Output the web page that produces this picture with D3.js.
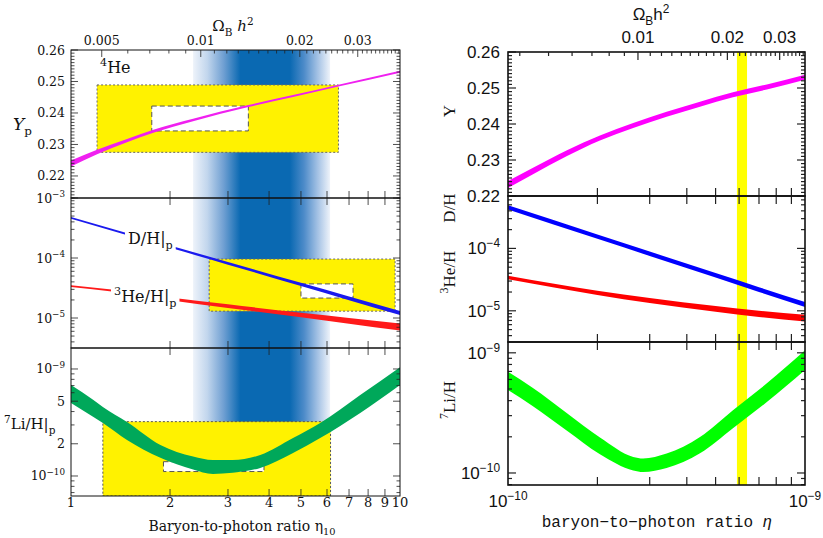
<!DOCTYPE html>
<html>
<head>
<meta charset="utf-8">
<script src="https://cdnjs.cloudflare.com/ajax/libs/d3/7.8.5/d3.min.js"></script>
<style>
body { margin: 0; background: #fff; }
svg { display: block; }
</style>
</head>
<body>
<script>
/* data: left figure, eta10 = 1..10 */
var etaHeL = [1, 1.2, 1.48, 1.78, 2.35, 3.46, 4.73, 6.5, 10]
var ypLoL = [0.223, 0.2269, 0.2307, 0.2337, 0.2374, 0.2419, 0.2451, 0.2484, 0.2528]
var ypHiL = [0.2249, 0.2283, 0.2317, 0.2347, 0.2382, 0.2425, 0.2457, 0.249, 0.2534]

var etaDL = [1, 2, 3, 5, 7, 10]
var dhLoL = [4.49e-4, 1.48e-4, 7.75e-5, 3.41e-5, 1.98e-5, 1.12e-5]
var dhHiL = [4.81e-4, 1.62e-4, 8.57e-5, 3.86e-5, 2.29e-5, 1.31e-5]

var eta3L = [1, 1.35, 2, 3, 5, 7, 10]
var he3LoL = [3.29e-5, 2.74e-5, 1.98e-5, 1.47e-5, 1.03e-5, 8.04e-6, 6.19e-6]
var he3HiL = [3.53e-5, 2.96e-5, 2.19e-5, 1.69e-5, 1.22e-5, 1.0e-5, 8.1e-6]

var etaLiL = [1, 1.17, 1.25, 1.48, 1.87, 2.35, 2.7, 3.1, 3.76, 4.73, 5.72, 7.57, 10]
var liLoL = [4.81e-10, 3.56e-10, 3.13e-10, 2.17e-10, 1.48e-10, 1.15e-10, 1.045e-10, 1.07e-10, 1.19e-10, 1.64e-10, 2.26e-10, 3.88e-10, 7.1e-10]
var liHiL = [7.08e-10, 5.14e-10, 4.42e-10, 3.2e-10, 1.95e-10, 1.52e-10, 1.41e-10, 1.41e-10, 1.57e-10, 2.26e-10, 3.13e-10, 5.71e-10, 1.04e-9]

// observation boxes: [eta min, eta max, value min, value max]
var heBox = [1.2, 6.5, 0.2275, 0.2489]
var heBoxIn = [1.76, 3.46, 0.2343, 0.2422]
var dBox = [2.63, 9.66, 1.3e-5, 9.6e-5]
var dBoxIn = [5.0, 7.2, 2.15e-5, 3.7e-5]
var liBox = [1.25, 6.15, 5e-11, 3.22e-10]
var liBoxIn = [1.91, 3.86, 1.1e-10, 1.36e-10]
// concordance band: outer edges and dark core (eta10)
var cmbBand = [2.35, 3.27, 4.63, 6.13]

var omegaTicksL = [0.005, 0.01, 0.02, 0.03]
var omegaToEtaL = 248
var etaTickLabelsL = [1, 2, 3, 4, 5, 6, 7, 8, 9, 10]

/* data: right figure, eta in units of 1e-10 */
var etaYR = [1, 1.21, 1.58, 2.04, 2.64, 3.42, 4.43, 5.72, 7.44, 10]
var yLoR = [0.2222, 0.226, 0.2311, 0.2354, 0.2389, 0.242, 0.2448, 0.2474, 0.2496, 0.2523]
var yHiR = [0.2242, 0.2278, 0.2327, 0.2368, 0.2403, 0.2434, 0.2462, 0.2488, 0.251, 0.2537]

var etaDR = [1, 2, 3, 5, 7, 10]
var dhLoR = [4.22e-4, 1.43e-4, 7.59e-5, 3.41e-5, 2.01e-5, 1.15e-5]
var dhHiR = [4.9e-4, 1.67e-4, 8.9e-5, 4.04e-5, 2.39e-5, 1.38e-5]
var he3LoR = [3.19e-5, 1.79e-5, 1.33e-5, 9.64e-6, 7.98e-6, 6.74e-6]
var he3HiR = [3.66e-5, 2.1e-5, 1.6e-5, 1.19e-5, 1.0e-5, 8.66e-6]

var etaLiR = [1, 1.21, 1.58, 2.04, 2.64, 2.85, 3.42, 4.43, 5.72, 7.44, 10]
var liLoR = [4.9e-10, 3.61e-10, 2.25e-10, 1.43e-10, 1.05e-10, 1.02e-10, 1.1e-10, 1.46e-10, 2.36e-10, 3.89e-10, 7.18e-10]
var liHiR = [6.95e-10, 5.12e-10, 3.14e-10, 1.97e-10, 1.36e-10, 1.32e-10, 1.45e-10, 1.99e-10, 3.33e-10, 5.57e-10, 1.05e-9]

var wmapBand = [5.9, 6.38]
var omegaTicksR = [0.01, 0.02, 0.03]
var omegaToEtaR = 273.9

/* setup */
var width = 823, height = 538
var serif = '"DejaVu Serif", serif'
var tserif = '"Liberation Serif", serif'
var sans = '"Liberation Sans", Arial, sans-serif'
var mono = '"Liberation Mono", monospace'

var svg = d3.select('body').append('svg')
    .attr('width', width)
    .attr('height', height)
var defs = svg.append('defs')

var xL = d3.scaleLog().domain([1, 10]).range([71, 400])
var yL1 = d3.scaleLinear().domain([0.213, 0.26]).range([198, 50])
var yL2 = d3.scaleLog().domain([Math.pow(10, -5.5), 1e-3]).range([348, 198])
var yL3 = d3.scaleLog().domain([Math.pow(10, -10.187), Math.pow(10, -8.804)]).range([496, 348])

var xR = d3.scaleLog().domain([1, 10]).range([508, 805])
var yR1 = d3.scaleLinear().domain([0.22, 0.26]).range([196, 52])
var yR2 = d3.scaleLog().domain([Math.pow(10, -5.5), Math.pow(10, -3.16)]).range([342, 196])
var yR3 = d3.scaleLog().domain([Math.pow(10, -10.1), Math.pow(10, -8.91)]).range([485, 342])

var clipCount = 0
function clipFor(x, y) {
    var id = 'clip' + (clipCount++)
    defs.append('clipPath').attr('id', id).append('rect')
        .attr('x', x.range()[0]).attr('y', y.range()[1])
        .attr('width', x.range()[1] - x.range()[0])
        .attr('height', y.range()[0] - y.range()[1])
    return 'url(#' + id + ')'
}

function rows(eta, lo, hi) {
    return eta.map(function(e, i) { return { eta: e, lo: lo[i], hi: hi[i] } })
}

function band(g, x, y, eta, lo, hi, color) {
    var area = d3.area()
        .x(function(d) { return x(d.eta) })
        .y0(function(d) { return y(d.lo) })
        .y1(function(d) { return y(d.hi) })
        .curve(d3.curveMonotoneX)
    g.append('path').datum(rows(eta, lo, hi))
        .attr('d', area)
        .attr('fill', color)
}

function box(g, x, y, b, fill, dash, stroke) {
    var y0 = Math.min(y(b[3]), y.range()[0])
    var y1 = Math.min(y(b[2]), y.range()[0])
    g.append('rect')
        .attr('x', x(b[0])).attr('y', y0)
        .attr('width', x(b[1]) - x(b[0]))
        .attr('height', y1 - y0)
        .attr('fill', fill)
        .attr('stroke', stroke)
        .attr('stroke-width', 1)
        .attr('stroke-dasharray', dash)
}

function rich(text, parts, size) {
    var off = 0
    parts.forEach(function(p) {
        var target = p[1] === 'sup' ? -size * 0.42 : p[1] === 'sub' ? size * 0.3 : 0
        var t = text.append('tspan').attr('dy', target - off).text(p[0])
        if (p[1]) t.style('font-size', (size * 0.7) + 'px')
        if (p[2]) t.style('font-style', p[2])
        off = target
    })
    return text
}

function label(g, x, y, parts, size, font, anchor) {
    var t = g.append('text')
        .attr('x', x).attr('y', y)
        .attr('text-anchor', anchor || 'start')
        .style('font-family', font)
        .style('font-size', size + 'px')
        .attr('fill', '#111')
    return rich(t, parts, size)
}

function isDecade(v) {
    var l = Math.log10(v)
    return Math.abs(l - Math.round(l)) < 1e-6
}

function frame(g, x, y, opt) {
    var x0 = x.range()[0], x1 = x.range()[1]
    var yb = y.range()[0], yt = y.range()[1]
    var ticks = g.append('g').attr('stroke', '#222').attr('stroke-width', opt.tw)
    opt.yTicks.forEach(function(v) {
        var len = opt.isMajor(v) ? opt.major : opt.minor
        var yy = y(v)
        if (yy < yt - 0.5 || yy > yb + 0.5) return
        ticks.append('line').attr('x1', x0).attr('x2', x0 + len).attr('y1', yy).attr('y2', yy)
        ticks.append('line').attr('x1', x1).attr('x2', x1 - len).attr('y1', yy).attr('y2', yy)
    })
    opt.xTicks.forEach(function(v) {
        var xx = x(v)
        if (opt.bottom) ticks.append('line').attr('x1', xx).attr('x2', xx).attr('y1', yb).attr('y2', yb - opt.major)
        if (opt.top) ticks.append('line').attr('x1', xx).attr('x2', xx).attr('y1', yt).attr('y2', yt + opt.major)
    })
    g.append('rect')
        .attr('x', x0).attr('y', yt)
        .attr('width', x1 - x0).attr('height', yb - yt)
        .attr('fill', 'none')
        .attr('stroke', '#111')
        .attr('stroke-width', opt.fw)
}

function sciParts(v) {
    return [['10', ''], ['\u2212' + Math.round(-Math.log10(v)), 'sup']]
}

/* ---------------- left figure ---------------- */
var gl = svg.append('g')

var grad = defs.append('linearGradient').attr('id', 'cmb')
    .attr('gradientUnits', 'userSpaceOnUse')
    .attr('x1', xL(cmbBand[0])).attr('x2', xL(cmbBand[3]))
    .attr('y1', 0).attr('y2', 0)
var span = xL(cmbBand[3]) - xL(cmbBand[0])
var c0 = (xL(cmbBand[1]) - xL(cmbBand[0])) / span
var c1 = (xL(cmbBand[2]) - xL(cmbBand[0])) / span
var core = '#0a69b2', edge = '#eef3fa'
var stops = [
    [0, edge], [c0 * 0.3, '#c2d6ed'], [c0 * 0.65, '#6f9fd2'], [c0, core],
    [c1, core], [c1 + (1 - c1) * 0.35, '#4d8bc9'], [c1 + (1 - c1) * 0.7, '#a6c3e5'], [1, edge]
]
stops.forEach(function(s) {
    grad.append('stop').attr('offset', s[0]).attr('stop-color', s[1])
})

gl.append('rect')
    .attr('x', xL(cmbBand[0])).attr('y', yL1.range()[1])
    .attr('width', span)
    .attr('height', yL3.range()[0] - yL1.range()[1])
    .attr('fill', 'url(#cmb)')

var pL1 = gl.append('g').attr('clip-path', clipFor(xL, yL1))
var pL2 = gl.append('g').attr('clip-path', clipFor(xL, yL2))
var pL3 = gl.append('g').attr('clip-path', clipFor(xL, yL3))

box(pL1, xL, yL1, heBox, '#fff200', '2,2', '#666')
box(pL1, xL, yL1, heBoxIn, '#fff', '5,3', '#555')
band(pL1, xL, yL1, etaHeL, ypLoL, ypHiL, '#f020f0')

box(pL2, xL, yL2, dBox, '#fff200', '2,2', '#666')
box(pL2, xL, yL2, dBoxIn, '#fff', '5,3', '#555')
band(pL2, xL, yL2, etaDL, dhLoL, dhHiL, '#1a1aee')
band(pL2, xL, yL2, eta3L, he3LoL, he3HiL, '#ff1a1a')

box(pL3, xL, yL3, liBox, '#fff200', '2,2', '#555')
box(pL3, xL, yL3, liBoxIn, '#fff', '5,3', '#555')
band(pL3, xL, yL3, etaLiL, liLoL, liHiL, '#00a85a')

var etaMinor = [2, 3, 4, 5, 6, 7, 8, 9]
var linMinor = d3.range(213, 261).map(function(i) { return i / 1000 })
var lOpt = { tw: 0.8, fw: 1, major: 7, minor: 3.5, bottom: true, top: true }
frame(gl, xL, yL1, Object.assign({}, lOpt, { top: false, xTicks: etaMinor, yTicks: linMinor,
    isMajor: function(v) { return Math.abs(v * 100 - Math.round(v * 100)) < 1e-6 } }))
frame(gl, xL, yL2, Object.assign({}, lOpt, { xTicks: etaMinor, yTicks: yL2.ticks(), isMajor: isDecade }))
frame(gl, xL, yL3, Object.assign({}, lOpt, { xTicks: etaMinor, yTicks: yL3.ticks(),
    isMajor: function(v) { return isDecade(v) || Math.abs(v - 2e-10) < 1e-14 || Math.abs(v - 5e-10) < 1e-14 } }))

// omega ticks on top of the left figure
var omegaMinorL = d3.range(5, 41).map(function(i) { return i / 1000 })
omegaMinorL.forEach(function(o) {
    var xx = xL(o * omegaToEtaL)
    if (xx > xL.range()[1]) return
    var major = omegaTicksL.some(function(m) { return Math.abs(m - o) < 1e-9 })
    gl.append('line').attr('x1', xx).attr('x2', xx)
        .attr('y1', yL1.range()[1]).attr('y2', yL1.range()[1] + (major ? 7 : 3.5))
        .attr('stroke', '#222').attr('stroke-width', 0.8)
})
omegaTicksL.forEach(function(o) {
    label(gl, xL(o * omegaToEtaL), 45, [[String(o), '']], 12.5, serif, 'middle')
})
label(gl, 233, 31, [['\u03a9', ''], ['B', 'sub'], [' ', ''], ['h', '', 'italic'], ['2', 'sup']], 15, serif, 'middle')

// y tick labels
;[0.26, 0.25, 0.24, 0.23, 0.22].forEach(function(v) {
    label(gl, 65, yL1(v) + 4.5, [[v.toFixed(2), '']], 12.5, serif, 'end')
})
;[1e-3, 1e-4, 1e-5].forEach(function(v) {
    label(gl, 65, yL2(v) + 4.5, sciParts(v), 12.5, serif, 'end')
})
;[1e-9, 5e-10, 2e-10, 1e-10].forEach(function(v) {
    var parts = isDecade(v) ? sciParts(v) : [[String(Math.round(v * 1e10)), '']]
    label(gl, 65, yL3(v) + 4.5, parts, 12.5, serif, 'end')
})
etaTickLabelsL.forEach(function(v) {
    label(gl, xL(v), 507, [[String(v), '']], 13, serif, 'middle')
})
label(gl, 242, 531, [['Baryon-to-photon ratio \u03b7', ''], ['10', 'sub']], 14, serif, 'middle')

// panel labels
label(gl, 13, 130, [['Y', '', 'italic'], ['p', 'sub']], 17, serif)
label(gl, 100, 73, [['4', 'sup'], ['He', '']], 16, serif)
label(gl, 4, 429, [['7', 'sup'], ['Li/H|', ''], ['p', 'sub']], 15, serif)

function lineLabel(x, y, parts) {
    var t = label(gl, x, y, parts, 16, serif)
    var bb = t.node().getBBox()
    gl.insert('rect', 'text')
        .attr('x', bb.x - 3).attr('y', bb.y)
        .attr('width', bb.width + 6).attr('height', bb.height)
        .attr('fill', '#fff')
}
lineLabel(128, 244, [['D/H|', ''], ['p', 'sub']])
lineLabel(114, 302, [['3', 'sup'], ['He/H|', ''], ['p', 'sub']])

/* ---------------- right figure ---------------- */
var gr = svg.append('g')

gr.append('rect')
    .attr('x', xR(wmapBand[0])).attr('y', yR1.range()[1])
    .attr('width', xR(wmapBand[1]) - xR(wmapBand[0]))
    .attr('height', yR3.range()[0] - yR1.range()[1])
    .attr('fill', '#ffff00')

var pR1 = gr.append('g').attr('clip-path', clipFor(xR, yR1))
var pR2 = gr.append('g').attr('clip-path', clipFor(xR, yR2))
var pR3 = gr.append('g').attr('clip-path', clipFor(xR, yR3))

band(pR1, xR, yR1, etaYR, yLoR, yHiR, '#ff00ff')
band(pR2, xR, yR2, etaDR, dhLoR, dhHiR, '#0000ff')
band(pR2, xR, yR2, etaDR, he3LoR, he3HiR, '#ff0000')
band(pR3, xR, yR3, etaLiR, liLoR, liHiR, '#00ff00')

var linMinorR = d3.range(220, 261).map(function(i) { return i / 1000 })
var rOpt = { tw: 1.2, fw: 1.6, major: 8, minor: 4, bottom: true, top: true }
frame(gr, xR, yR1, Object.assign({}, rOpt, { top: false, xTicks: etaMinor, yTicks: linMinorR,
    isMajor: function(v) { return Math.abs(v * 100 - Math.round(v * 100)) < 1e-6 } }))
frame(gr, xR, yR2, Object.assign({}, rOpt, { xTicks: etaMinor, yTicks: yR2.ticks(), isMajor: isDecade }))
frame(gr, xR, yR3, Object.assign({}, rOpt, { xTicks: etaMinor, yTicks: yR3.ticks(), isMajor: isDecade }))

var omegaMinorR = d3.range(4, 37).map(function(i) { return i / 1000 })
omegaMinorR.forEach(function(o) {
    var xx = xR(o * omegaToEtaR)
    if (xx > xR.range()[1]) return
    var major = omegaTicksR.some(function(m) { return Math.abs(m - o) < 1e-9 })
    gr.append('line').attr('x1', xx).attr('x2', xx)
        .attr('y1', yR1.range()[1]).attr('y2', yR1.range()[1] + (major ? 8 : 4))
        .attr('stroke', '#222').attr('stroke-width', 1.2)
})
omegaTicksR.forEach(function(o) {
    label(gr, xR(o * omegaToEtaR), 43, [[String(o), '']], 17, sans, 'middle')
})
label(gr, 651, 20, [['\u03a9', ''], ['B', 'sub'], ['h', ''], ['2', 'sup']], 17, sans, 'middle')

;[0.26, 0.25, 0.24, 0.23, 0.22].forEach(function(v) {
    label(gr, 500, yR1(v) + 6, [[v.toFixed(2), '']], 17, sans, 'end')
})
;[1e-4, 1e-5].forEach(function(v) {
    label(gr, 500, yR2(v) + 6, sciParts(v), 17, sans, 'end')
})
;[1e-9, 1e-10].forEach(function(v) {
    label(gr, 500, yR3(v) + 6, sciParts(v), 17, sans, 'end')
})
label(gr, xR(1), 507, sciParts(1e-10), 17, sans, 'middle')
label(gr, xR(10), 507, sciParts(1e-9), 17, sans, 'middle')
label(gr, 657, 527, [['baryon\u2212to\u2212photon ratio  ', ''], ['\u03b7', '', 'italic']], 16, mono, 'middle')

function sideLabel(cy, parts) {
    var g = gr.append('g').attr('transform', 'translate(455,' + cy + ') rotate(-90)')
    label(g, 0, 0, parts, 17, tserif, 'middle')
}
sideLabel(111, [['Y', '']])
sideLabel(208, [['D/H', '']])
sideLabel(272, [['3', 'sup'], ['He/H', '']])
sideLabel(400, [['7', 'sup'], ['Li/H', '']])
</script>
</body>
</html>
